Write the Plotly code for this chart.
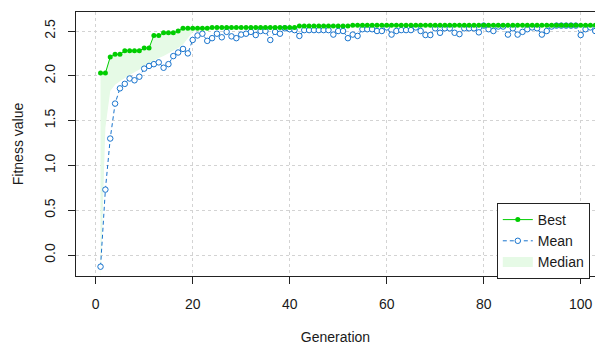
import plotly.graph_objects as go

generation = list(range(1, 104))

best = ([2.03, 2.03, 2.21, 2.24, 2.24, 2.28, 2.28, 2.28, 2.28, 2.31, 2.31,
         2.45, 2.45, 2.48, 2.48, 2.48, 2.50]
        + [2.53] * 6      # 18-23
        + [2.54] * 18     # 24-41
        + [2.555] * 11    # 42-52
        + [2.565] * 51)   # 53-103

mean = [-0.13, 0.73, 1.30, 1.69, 1.86, 1.91, 1.97, 1.95, 1.99, 2.08,
        2.11, 2.13, 2.15, 2.09, 2.13, 2.22, 2.26, 2.30, 2.25, 2.40,
        2.45, 2.47, 2.39, 2.42, 2.47, 2.43, 2.49, 2.44, 2.42, 2.46,
        2.47, 2.49, 2.455, 2.50, 2.50, 2.40, 2.49, 2.47, 2.53, 2.52,
        2.51, 2.445, 2.51, 2.51, 2.51, 2.51, 2.51, 2.51, 2.46, 2.50,
        2.50, 2.42, 2.46, 2.445, 2.52, 2.52, 2.52, 2.50, 2.50, 2.54,
        2.46, 2.50, 2.51, 2.51, 2.51, 2.54, 2.50, 2.455, 2.455, 2.53,
        2.48, 2.53, 2.53, 2.48, 2.465, 2.53, 2.53, 2.53, 2.485, 2.56,
        2.52, 2.50, 2.55, 2.55, 2.46, 2.53, 2.46, 2.49, 2.52, 2.54,
        2.53, 2.46, 2.50, 2.55, 2.56, 2.56, 2.56, 2.56, 2.56, 2.455,
        2.52, 2.54, 2.50]

median_head = [-0.30, 1.42, 1.83, 1.90, 1.94, 1.98, 2.01, 2.04, 2.07, 2.11,
               2.14, 2.17, 2.20, 2.22, 2.25, 2.28, 2.31, 2.35, 2.42, 2.49, 2.52]
median = median_head + best[len(median_head):]

x_ticks = [0, 20, 40, 60, 80, 100]
y_ticks = [0.0, 0.5, 1.0, 1.5, 2.0, 2.5]

GREEN = "#00CD00"
BLUE = "#1874CD"
FILL = "rgb(230,250,230)"
TXT = "#1a1a1a"

fig = go.Figure()
# shaded band between median and best
fig.add_trace(go.Scatter(x=generation, y=median, mode="lines",
                         line=dict(width=0, color=FILL), showlegend=False,
                         hoverinfo="skip"))
fig.add_trace(go.Scatter(x=generation, y=best, mode="lines", fill="tonexty",
                         fillcolor=FILL, line=dict(width=0, color=FILL),
                         showlegend=False, hoverinfo="skip"))
fig.add_trace(go.Scatter(x=generation, y=mean, mode="lines+markers", name="Mean",
                         line=dict(color=BLUE, width=1, dash="4px,3px"),
                         marker=dict(color="white", size=5.5, symbol="circle",
                                     line=dict(color=BLUE, width=1)),
                         legendrank=2))
fig.add_trace(go.Scatter(x=generation, y=best, mode="lines+markers", name="Best",
                         line=dict(color=GREEN, width=1),
                         marker=dict(color=GREEN, size=5, symbol="circle"),
                         legendrank=1))
fig.add_trace(go.Scatter(x=[None], y=[None], mode="lines", name="Median",
                         line=dict(color=FILL, width=10), legendrank=3))

axis_common = dict(showline=True, linecolor="#222", linewidth=1, mirror=True,
                   ticks="outside", ticklen=7, tickcolor="#222",
                   showgrid=True, gridcolor="#d3d3d3", griddash="dot",
                   gridwidth=1, zeroline=False, automargin=False,
                   tickfont=dict(size=14, color=TXT))

fig.update_layout(
    width=595, height=345,
    margin=dict(l=76, r=0, t=12, b=69, autoexpand=False),
    plot_bgcolor="white", paper_bgcolor="white",
    font=dict(family="Liberation Sans, Arial, sans-serif", size=14, color=TXT),
    xaxis=dict(range=[-4.06, 102.95], tickvals=x_ticks,
               title=dict(text="Generation", standoff=26, font=dict(size=14)),
               ticklabelstandoff=8, **axis_common),
    yaxis=dict(range=[-0.234, 2.712], tickvals=y_ticks, tickformat=".1f",
               tickangle=-90,
               title=dict(text="Fitness value", standoff=15, font=dict(size=14)),
               ticklabelstandoff=7, **axis_common),
    legend=dict(x=0.99, xanchor="right", y=0.2765, yanchor="top",
                bgcolor="white", bordercolor="#222", borderwidth=1,
                font=dict(size=14, color=TXT), itemwidth=30,
                tracegroupgap=0, traceorder="normal"),
    showlegend=True,
)

fig.write_html("out.html",
               config={"displayModeBar": False},
               post_script="document.body.style.margin='0';"
                           "document.body.style.overflow='hidden';")
